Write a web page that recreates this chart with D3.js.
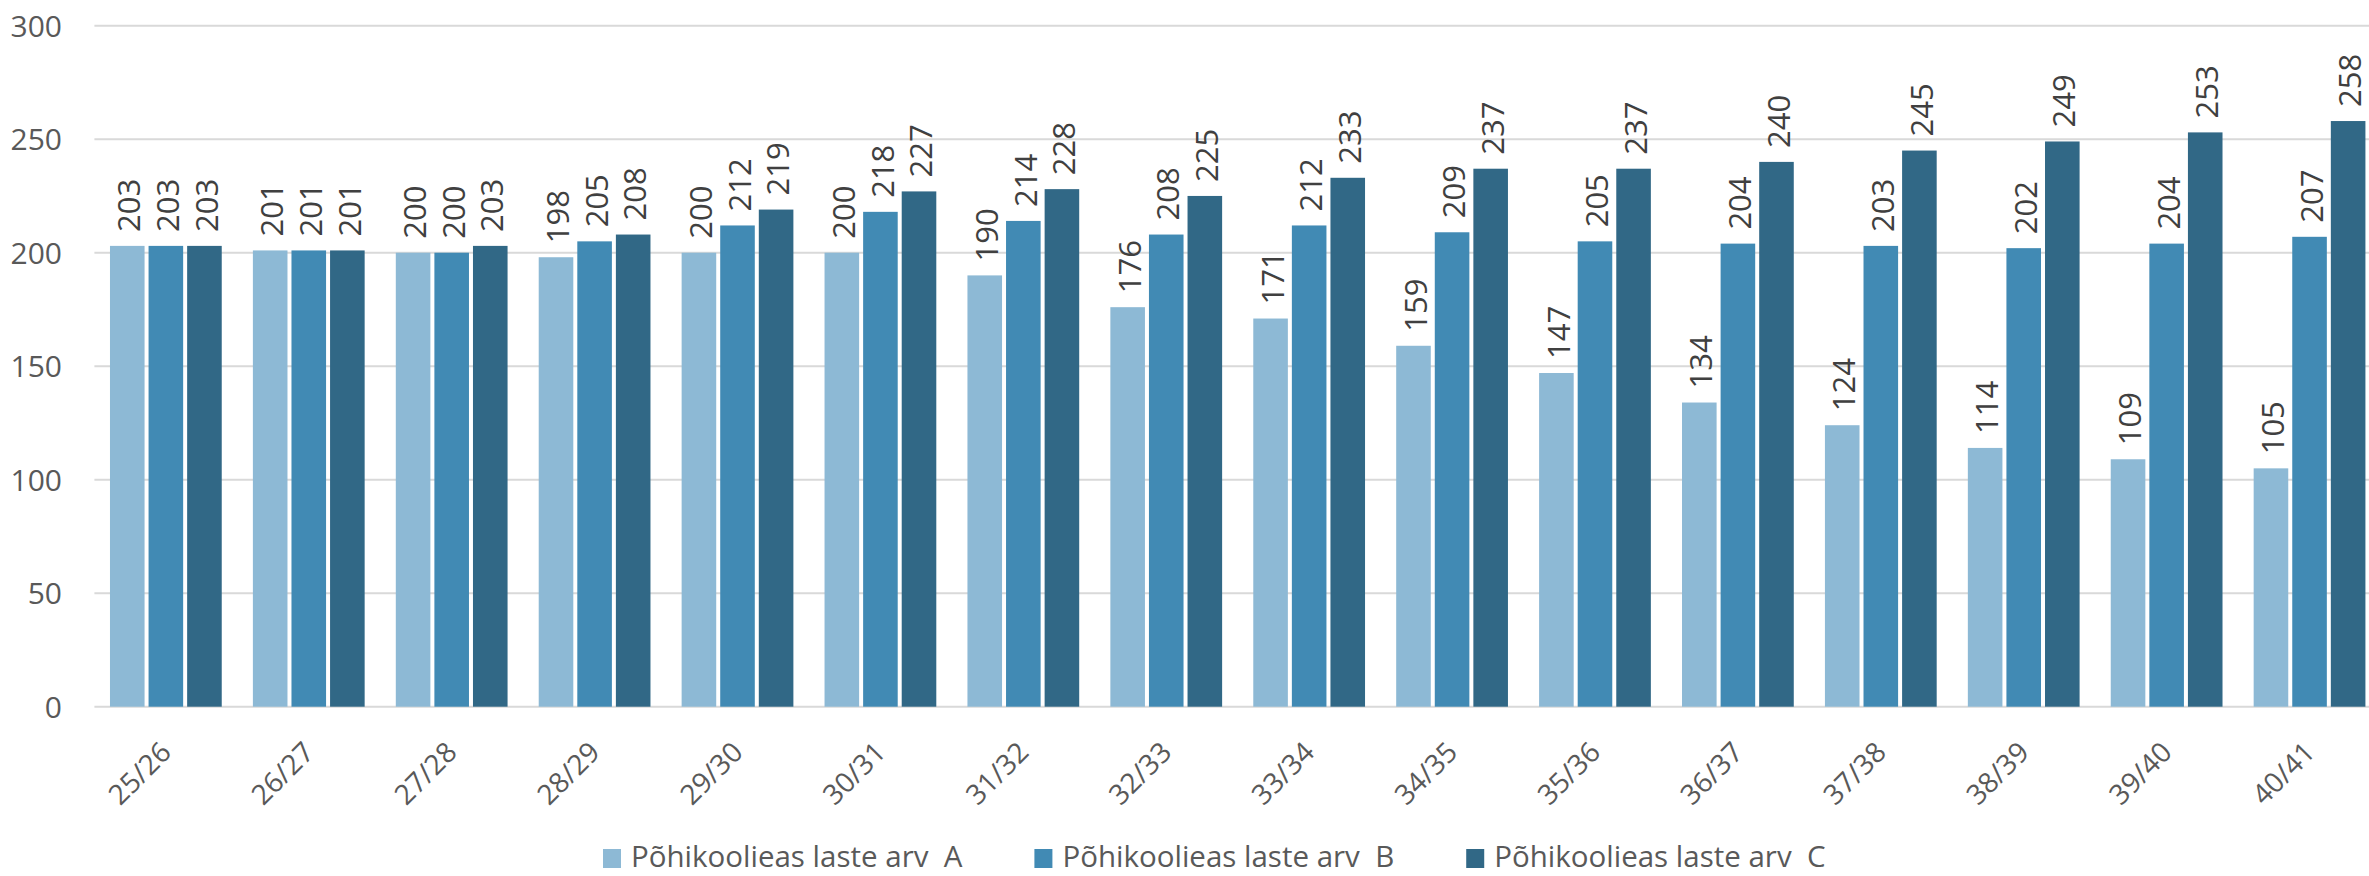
<!DOCTYPE html>
<html>
<head>
<meta charset="utf-8">
<script src="https://cdn.jsdelivr.net/npm/d3@7"></script>
<style>
  body { margin: 0; background: #fff; }
  text { font-family: "Open Sans", Lato, sans-serif; }
</style>
</head>
<body>
<svg id="chart"></svg>
<script>
// data
const categories = ["25/26", "26/27", "27/28", "28/29", "29/30", "30/31", "31/32", "32/33",
  "33/34", "34/35", "35/36", "36/37", "37/38", "38/39", "39/40", "40/41"];
const seriesA = [203, 201, 200, 198, 200, 200, 190, 176, 171, 159, 147, 134, 124, 114, 109, 105];
const seriesB = [203, 201, 200, 205, 212, 218, 214, 208, 212, 209, 205, 204, 203, 202, 204, 207];
const seriesC = [203, 201, 203, 208, 219, 227, 228, 225, 233, 237, 237, 240, 245, 249, 253, 258];
const seriesNames = ["Põhikoolieas laste arv  A", "Põhikoolieas laste arv  B", "Põhikoolieas laste arv  C"];
const yTicks = [0, 50, 100, 150, 200, 250, 300];

const colors = ["#8db9d5", "#418ab4", "#316886"];
const allSeries = [seriesA, seriesB, seriesC];

const svgWidth = 2369;
const svgHeight = 876;
const plot = { left: 94.4, right: 2381, top: 25.7, bottom: 706.7 };

const svg = d3.select("#chart").attr("width", svgWidth).attr("height", svgHeight);

// scales
const x0 = d3.scaleBand()
  .domain(categories)
  .range([plot.left, plot.right])
  .paddingInner(0.19)
  .paddingOuter(0.095);

const x1 = d3.scaleBand()
  .domain([0, 1, 2])
  .range([0, x0.bandwidth()]);

const yScale = d3.scaleLinear().domain([0, 300]).range([plot.bottom, plot.top]);

// gridlines
svg.append("g")
  .selectAll("line")
  .data(yTicks)
  .join("line")
  .attr("x1", plot.left)
  .attr("x2", plot.right)
  .attr("y1", (d) => yScale(d))
  .attr("y2", (d) => yScale(d))
  .attr("stroke", "#d9d9d9")
  .attr("stroke-width", 2);

// y axis labels
svg.append("g")
  .selectAll("text")
  .data(yTicks)
  .join("text")
  .attr("x", 62)
  .attr("y", (d) => yScale(d))
  .attr("dy", "0.36em")
  .attr("text-anchor", "end")
  .attr("fill", "#595959")
  .style("font-size", "30px")
  .text((d) => d);

// bars, one group per school year
const rows = categories.map((c, i) => ({ cat: c, vals: allSeries.map((s) => s[i]) }));

const groups = svg.append("g")
  .selectAll("g")
  .data(rows)
  .join("g")
  .attr("transform", (d) => `translate(${x0(d.cat)},0)`);

groups.selectAll("rect")
  .data((d) => d.vals.map((v, k) => ({ v, k })))
  .join("rect")
  .attr("x", (d) => x1(d.k) + 2)
  .attr("width", x1.bandwidth() - 4)
  .attr("y", (d) => yScale(d.v))
  .attr("height", (d) => yScale(0) - yScale(d.v))
  .attr("fill", (d) => colors[d.k]);

// value labels, rotated
groups.selectAll("text")
  .data((d) => d.vals.map((v, k) => ({ v, k })))
  .join("text")
  .attr("transform", (d) =>
    `translate(${x1(d.k) + x1.bandwidth() / 2 + 2},${yScale(d.v) - 14}) rotate(-90)`)
  .attr("dy", "0.36em")
  .attr("text-anchor", "start")
  .attr("fill", "#404040")
  .style("font-size", "31px")
  .text((d) => d.v);

// x axis labels
svg.append("g")
  .selectAll("text")
  .data(categories)
  .join("text")
  .attr("transform", (d) => `translate(${x0(d) + x0.bandwidth() / 2 + 7},754) rotate(-45)`)
  .attr("text-anchor", "end")
  .attr("fill", "#595959")
  .style("font-size", "28px")
  .text((d) => d);

// legend
const legend = svg.append("g").attr("transform", "translate(603,0)");
let lx = 0;
seriesNames.forEach((name, k) => {
  legend.append("rect")
    .attr("x", lx)
    .attr("y", 849)
    .attr("width", 18)
    .attr("height", 19)
    .attr("fill", colors[k]);
  const t = legend.append("text")
    .attr("x", lx + 28)
    .attr("y", 867)
    .attr("fill", "#595959")
    .style("font-size", "29.5px")
    .style("white-space", "pre")
    .text(name);
  lx += 28 + t.node().getComputedTextLength() + 72;
});
</script>
</body>
</html>
